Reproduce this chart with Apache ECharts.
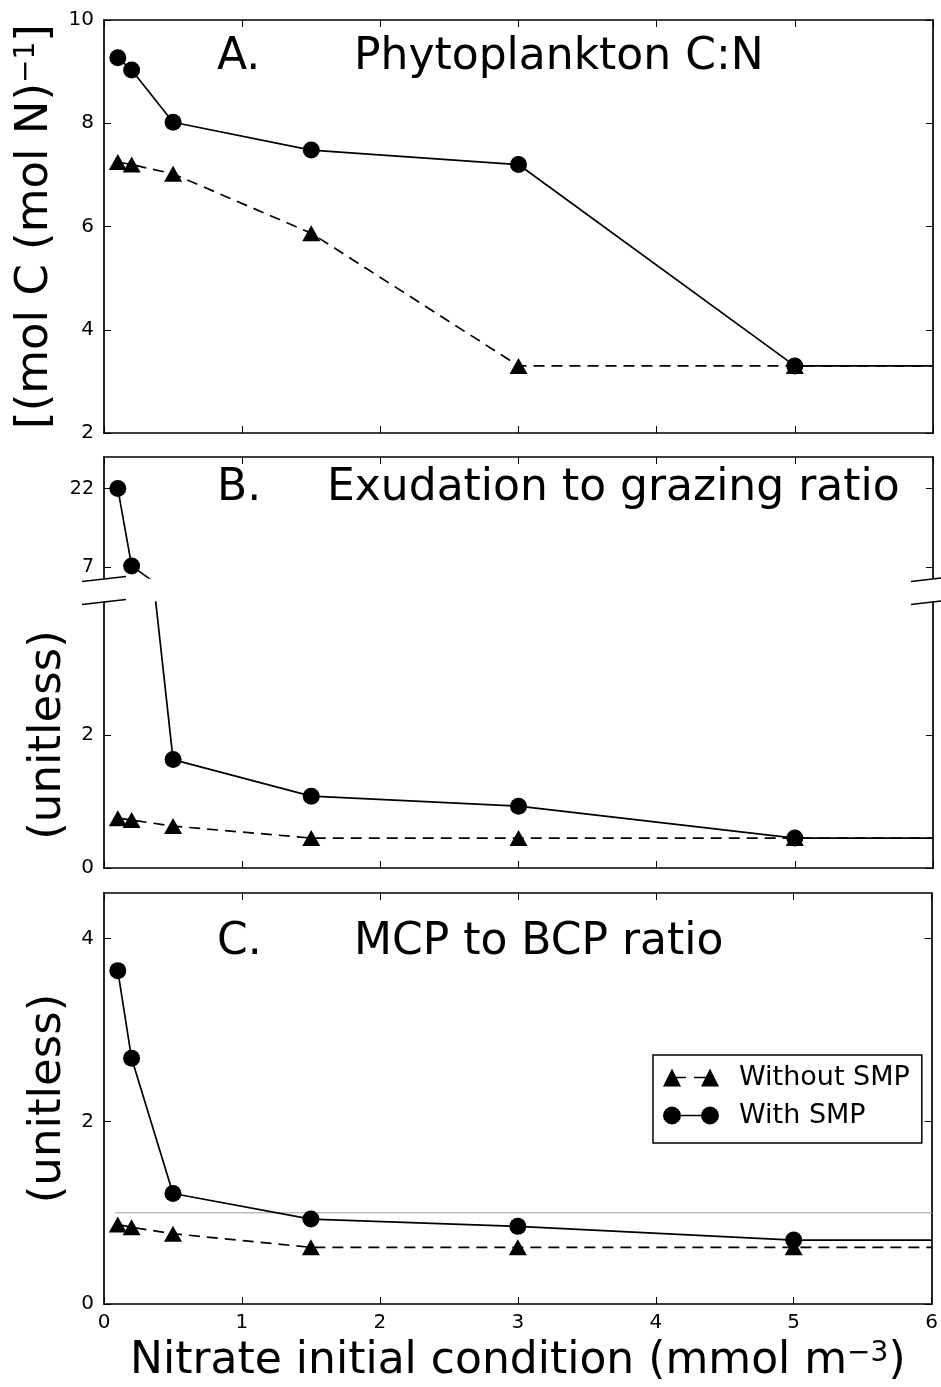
<!DOCTYPE html>
<html>
<head>
<meta charset="utf-8">
<script src="https://cdn.jsdelivr.net/npm/echarts@6/dist/echarts.min.js"></script>
<style>
  html, body { margin: 0; padding: 0; background: #fff; }
  #chart { width: 941px; height: 1387px; }
</style>
</head>
<body>
<div id="chart"></div>
<script>
// x positions of the model runs (nitrate initial condition, mmol m-3)
const nitrate = [0.1, 0.2, 0.5, 1.5, 3, 5];
const xEnd = 6;

// A. phytoplankton C:N
const cnWithout = [7.25, 7.2, 7.02, 5.87, 3.3, 3.3];
const cnWith = [9.27, 9.03, 8.02, 7.48, 7.2, 3.3];
// B. exudation to grazing ratio
const exuWithout = [0.75, 0.72, 0.63, 0.45, 0.45, 0.45];
const exuWith = [22, 7.3, 1.63, 1.08, 0.93, 0.45];
// C. MCP to BCP ratio
const mcpWithout = [0.87, 0.84, 0.77, 0.62, 0.62, 0.62];
const mcpWith = [3.65, 2.69, 1.21, 0.93, 0.85, 0.70];
// grey reference line at ratio 1
const refX = [0.08, 6];
const refY = [1, 1];

const ticksA = [2, 4, 6, 8, 10];
const ticksBup = [7, 22];
const ticksBlow = [0, 2];
const ticksC = [0, 2, 4];

const FONT = 'DejaVu Sans';
const black = '#000';

const triIcon = 'path://M0 18L9 0L18 18ZM13 8.3H23V9.7H13ZM31 8.3H43V9.7H31ZM38 18L47 0L56 18Z';
const dotIcon = 'path://M0 9A9 9 0 1 1 18 9A9 9 0 1 1 0 9ZM17 8.3H40V9.7H17ZM38 9A9 9 0 1 1 56 9A9 9 0 1 1 38 9Z';

const grids = [
  { left: 104, width: 829, top: 20, height: 413 },   // A
  { left: 104, width: 829, top: 457, height: 121 },  // B upper
  { left: 104, width: 829, top: 602, height: 266 },  // B lower
  { left: 104, width: 829, top: 893, height: 411 }   // C
];

function xAx(g, pos, show, extra) {
  return Object.assign({
    type: 'value', gridIndex: g, position: pos, min: 0, max: xEnd, interval: 1,
    axisLine: { show: show, onZero: false, lineStyle: { color: black, width: 1.7 } },
    axisTick: { show: show, inside: true, length: 7, lineStyle: { color: black, width: 1 } },
    axisLabel: { show: false },
    splitLine: { show: false }
  }, extra || {});
}

function yAx(g, pos, min, max, ticks, labelSize, extra) {
  return Object.assign({
    type: 'value', gridIndex: g, position: pos, min: min, max: max,
    axisLine: { show: true, onZero: false, lineStyle: { color: black, width: 1.7 } },
    axisTick: { show: true, inside: true, length: 7, customValues: ticks, lineStyle: { color: black, width: 1 } },
    axisLabel: pos === 'left'
      ? { show: true, customValues: ticks, margin: 10, fontSize: labelSize, fontFamily: FONT, color: black }
      : { show: false },
    splitLine: { show: false }
  }, extra || {});
}

const supRich = { sup: { fontSize: 28, fontFamily: FONT, color: black, verticalAlign: 'top' } };

const nameStyle = (gap) => ({
  nameLocation: 'middle', nameRotate: 90, nameGap: gap,
  nameTextStyle: { fontSize: 45, fontFamily: FONT, color: black, rich: supRich }
});

const xAxes = [
  xAx(0, 'bottom', true), xAx(0, 'top', true),
  xAx(1, 'bottom', false), xAx(1, 'top', true),
  xAx(2, 'bottom', true), xAx(2, 'top', false),
  xAx(3, 'bottom', true, {
    axisLabel: { show: true, margin: 9, fontSize: 20, fontFamily: FONT, color: black },
    name: 'Nitrate initial condition (mmol m{sup|−3})',
    nameLocation: 'middle', nameGap: 36,
    nameTextStyle: { fontSize: 44, fontFamily: FONT, color: black, rich: supRich }
  }),
  xAx(3, 'top', true)
];

const yAxes = [
  yAx(0, 'left', 2, 10, ticksA, 20, Object.assign({ name: '[(mol C (mol N){sup|−1}]' }, nameStyle(43))),
  yAx(0, 'right', 2, 10, ticksA, 20),
  yAx(1, 'left', 5, 28, ticksBup, 19),
  yAx(1, 'right', 5, 28, ticksBup, 19),
  yAx(2, 'left', 0, 4, ticksBlow, 20, Object.assign({ name: '(unitless)' }, nameStyle(19))),
  yAx(2, 'right', 0, 4, ticksBlow, 20),
  yAx(3, 'left', 0, 4.5, ticksC, 20, Object.assign({ name: '(unitless)' }, nameStyle(19))),
  yAx(3, 'right', 0, 4.5, ticksC, 20)
];

function pairs(ys) {
  const d = nitrate.map((x, i) => [x, ys[i]]);
  d.push({ value: [xEnd, ys[ys.length - 1]], symbol: 'none' });
  return d;
}

// each grid g owns x/y axes 2g (bottom/left) and 2g+1 (top/right)
function lineSeries(name, ys, g, dashed) {
  return {
    name: name, type: 'line', xAxisIndex: 2 * g, yAxisIndex: 2 * g,
    data: pairs(ys), clip: true,
    symbol: dashed ? 'triangle' : 'circle',
    symbolSize: dashed ? [18, 16] : 17,
    showAllSymbol: true,
    itemStyle: { color: black },
    lineStyle: { color: black, width: 1.7, type: dashed ? [11, 7] : 'solid' },
    emphasis: { disabled: true },
    z: 3
  };
}

const series = [
  lineSeries('Without SMP', cnWithout, 0, true),
  lineSeries('With SMP', cnWith, 0, false),
  lineSeries('Without SMP', exuWithout, 1, true),
  lineSeries('With SMP', exuWith, 1, false),
  lineSeries('Without SMP', exuWithout, 2, true),
  lineSeries('With SMP', exuWith, 2, false),
  {
    name: 'ref', type: 'line', xAxisIndex: 6, yAxisIndex: 6, silent: true,
    data: refX.map((x, i) => [x, refY[i]]), symbol: 'none',
    lineStyle: { color: '#bdbdbd', width: 1.5 }, z: 1
  },
  lineSeries('Without SMP', mcpWithout, 3, true),
  lineSeries('With SMP', mcpWith, 3, false)
];

// broken-axis marks for panel B
function brk(x, y) {
  return {
    type: 'line', silent: true, z: 10,
    shape: { x1: x - 22, y1: y + 2.5, x2: x + 22, y2: y - 2.5 },
    style: { stroke: black, lineWidth: 1.5 }
  };
}

function label(x, y, text) {
  return {
    type: 'text', x: x, y: y, silent: true, z: 10,
    style: { text: text, fontSize: 44, fontFamily: FONT, fill: black, align: 'left', verticalAlign: 'middle' }
  };
}

const chart = echarts.init(document.getElementById('chart'), null, { renderer: 'canvas' });
chart.setOption({
  animation: false,
  backgroundColor: '#fff',
  grid: grids,
  xAxis: xAxes,
  yAxis: yAxes,
  legend: {
    orient: 'vertical', left: 653, top: 1055,
    padding: [9, 12, 14, 10], itemGap: 11,
    itemWidth: 56, itemHeight: 18,
    borderColor: black, borderWidth: 1.5, backgroundColor: '#fff',
    itemStyle: { borderWidth: 0 },
    selectedMode: false,
    textStyle: { fontSize: 27, fontFamily: FONT, color: black, padding: [0, 0, 0, 15] },
    data: [
      { name: 'Without SMP', icon: triIcon },
      { name: 'With SMP', icon: dotIcon }
    ]
  },
  graphic: [
    label(217, 58, 'A.'), label(354, 58, 'Phytoplankton C:N'),
    label(217, 489, 'B.'), label(327, 489, 'Exudation to grazing ratio'),
    label(217, 943, 'C.'), label(354, 943, 'MCP to BCP ratio'),
    brk(104, 579), brk(104, 602), brk(933, 579), brk(933, 602)
  ],
  series: series
});
</script>
</body>
</html>
